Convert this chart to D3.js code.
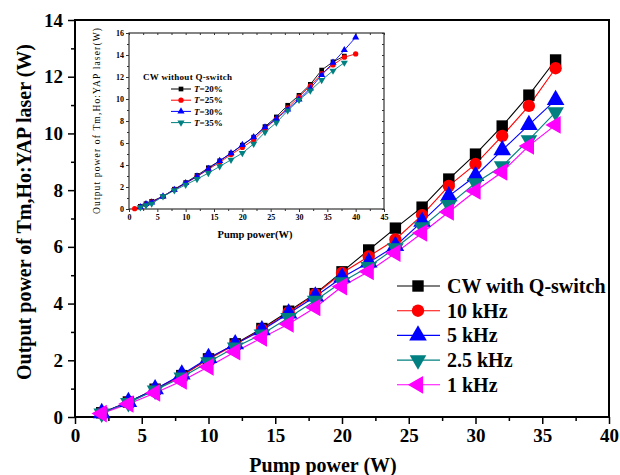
<!DOCTYPE html>
<html>
<head>
<meta charset="utf-8">
<script src="https://cdn.jsdelivr.net/npm/d3@7"></script>
<style>
  body { margin: 0; background: #fff; }
  svg { font-family: "Liberation Serif", "Times New Roman", serif; }
</style>
</head>
<body>
<svg id="chart" width="620" height="475"></svg>
<script>
// ---- main chart data (Q-switched) ----
var pump = [2, 4, 6, 8, 10, 12, 14, 16, 18, 20, 22, 24, 26, 28, 30, 32, 34, 36];
var cwQ   = [0.15, 0.53, 0.98, 1.46, 2.05, 2.58, 3.12, 3.73, 4.35, 5.12, 5.89, 6.66, 7.40, 8.39, 9.27, 10.26, 11.35, 12.59];
var f10k  = [0.14, 0.52, 0.97, 1.45, 2.04, 2.56, 3.09, 3.69, 4.33, 5.08, 5.66, 6.26, 7.12, 8.15, 8.92, 9.91, 10.97, 12.30];
var f5k   = [0.14, 0.53, 0.98, 1.50, 2.08, 2.57, 3.06, 3.65, 4.25, 4.92, 5.45, 6.03, 6.89, 7.79, 8.50, 9.41, 10.30, 11.18];
var f2_5k = [0.13, 0.50, 0.94, 1.40, 1.94, 2.46, 2.92, 3.50, 4.11, 4.76, 5.30, 5.96, 6.70, 7.48, 8.25, 8.85, 9.77, 10.75];
var f1k   = [0.12, 0.46, 0.85, 1.27, 1.77, 2.30, 2.79, 3.28, 3.86, 4.60, 5.13, 5.78, 6.49, 7.23, 7.97, 8.64, 9.56, 10.30];
var mainNames = ["CW with Q-switch", "10 kHz", "5 kHz", "2.5 kHz", "1 kHz"];

// ---- inset data (CW without Q-switch) ----
var insetPumpA = [2, 3, 4, 6, 8, 10, 12, 14, 16, 18, 20, 22, 24, 26, 28, 30, 32, 34, 36, 38];
var insetPumpB = [1, 2, 3, 4, 6, 8, 10, 12, 14, 16, 18, 20, 22, 24, 26, 28, 30, 32, 34, 36, 38, 40];
var insetPumpC = [2, 3, 4, 6, 8, 10, 12, 14, 16, 18, 20, 22, 24, 26, 28, 30, 32, 34, 36, 38, 40];
var t20 = [0.24, 0.48, 0.70, 1.15, 1.80, 2.40, 3.05, 3.75, 4.38, 5.07, 5.80, 6.53, 7.49, 8.37, 9.43, 10.33, 11.33, 12.63, 13.38, 13.90];
var t25 = [0.03, 0.20, 0.42, 0.65, 1.15, 1.75, 2.33, 2.95, 3.60, 4.25, 4.95, 5.60, 6.30, 7.30, 8.20, 9.20, 10.20, 11.20, 12.30, 13.10, 13.80, 14.10];
var t30 = [0.18, 0.45, 0.60, 1.15, 1.75, 2.36, 2.96, 3.66, 4.38, 5.08, 5.83, 6.53, 7.43, 8.19, 9.06, 9.97, 10.97, 12.18, 13.30, 14.45, 15.60];
var t35 = [0.15, 0.33, 0.48, 1.15, 1.69, 2.20, 2.72, 3.26, 3.87, 4.47, 5.08, 5.92, 6.98, 7.85, 8.94, 9.91, 10.76, 11.72, 12.57, 13.30];
var insetNames = ["20%", "25%", "30%", "35%"];

var colors = ["#000000", "#ff0000", "#0000ff", "#008080", "#ff00ff"];
var shapes = [
  {type: d3.symbolSquare, rot: 0},
  {type: d3.symbolCircle, rot: 0},
  {type: d3.symbolTriangle, rot: 0},
  {type: d3.symbolTriangle, rot: 180},
  {type: d3.symbolTriangle, rot: -90}
];

var svg = d3.select("#chart");

// ================= main plot =================
var margin = {top: 20, right: 11, bottom: 58, left: 75},
    width = 620 - margin.left - margin.right,
    height = 475 - margin.top - margin.bottom;

var g = svg.append("g")
    .attr("transform", "translate(" + margin.left + "," + margin.top + ")");

var x = d3.scaleLinear().domain([0, 40]).range([0, width]);
var y = d3.scaleLinear().domain([0, 14]).range([height, 0]);

// minor ticks
g.append("g")
    .attr("transform", "translate(0," + height + ")")
    .call(d3.axisBottom(x).tickValues(d3.range(2.5, 40, 5)).tickSize(4).tickFormat(""))
    .call(a => a.select(".domain").remove());
g.append("g")
    .call(d3.axisLeft(y).tickValues(d3.range(1, 14, 2)).tickSize(4).tickFormat(""))
    .call(a => a.select(".domain").remove());

var xAxis = g.append("g")
    .attr("transform", "translate(0," + height + ")")
    .call(d3.axisBottom(x).tickValues(d3.range(0, 41, 5)).tickSize(7).tickPadding(5));
var yAxis = g.append("g")
    .call(d3.axisLeft(y).tickValues(d3.range(0, 15, 2)).tickSize(7).tickPadding(5));

g.selectAll(".tick line").attr("stroke-width", 1.5);
[xAxis, yAxis].forEach(function(a) {
  a.select(".domain").remove();
  a.selectAll("text")
      .style("font-family", "Liberation Serif")
      .style("font-weight", "bold")
      .style("font-size", "19px")
      .attr("fill", "#000");
});

// frame
g.append("rect")
    .attr("width", width).attr("height", height)
    .attr("fill", "none").attr("stroke", "#000").attr("stroke-width", 2);

// axis labels
svg.append("text")
    .attr("x", 323).attr("y", 472)
    .style("text-anchor", "middle")
    .style("font-weight", "bold").style("font-size", "20px")
    .text("Pump power (W)");

svg.append("text")
    .attr("transform", "translate(31,212) rotate(-90)")
    .style("text-anchor", "middle")
    .style("font-weight", "bold").style("font-size", "20px")
    .text("Output power of Tm,Ho:YAP laser (W)");

var mainSeries = [cwQ, f10k, f5k, f2_5k, f1k].map(function(vals, i) {
  return {name: mainNames[i], color: colors[i], shape: shapes[i],
          pts: vals.map((v, j) => ({x: pump[j], y: v}))};
});

var mainSizes = [130, 120, 135, 120, 135];

var line = d3.line().x(d => x(d.x)).y(d => y(d.y));

mainSeries.forEach(function(s, i) {
  g.append("path")
      .datum(s.pts)
      .attr("d", line)
      .attr("fill", "none")
      .attr("stroke", s.color)
      .attr("stroke-width", 1.1);
});
mainSeries.forEach(function(s, i) {
  g.selectAll(".m" + i)
      .data(s.pts)
      .enter()
      .append("path")
      .attr("d", d3.symbol().type(s.shape.type).size(mainSizes[i]))
      .attr("transform", d => "translate(" + x(d.x) + "," + y(d.y) + ") rotate(" + s.shape.rot + ")")
      .attr("fill", s.color);
});

// main legend
var legend = svg.append("g").attr("transform", "translate(397,286)");
mainSeries.forEach(function(s, i) {
  var row = legend.append("g").attr("transform", "translate(0," + (i * 24.7) + ")");
  row.append("line")
      .attr("x1", 0).attr("x2", 43)
      .attr("stroke", s.color).attr("stroke-width", 1.1);
  row.append("path")
      .attr("d", d3.symbol().type(s.shape.type).size(mainSizes[i]))
      .attr("transform", "translate(21,0) rotate(" + s.shape.rot + ")")
      .attr("fill", s.color);
  row.append("text")
      .attr("x", 50).attr("dy", "0.35em")
      .style("font-weight", "bold").style("font-size", "20px")
      .text(s.name);
});

// ================= inset =================
var ins = {left: 129, top: 33, width: 255, height: 176};
var gi = svg.append("g")
    .attr("transform", "translate(" + ins.left + "," + ins.top + ")");

var xi = d3.scaleLinear().domain([0, 45]).range([0, ins.width]);
var yi = d3.scaleLinear().domain([0, 16]).range([ins.height, 0]);

gi.append("rect")
    .attr("width", ins.width).attr("height", ins.height)
    .attr("fill", "#fff").attr("stroke", "#333").attr("stroke-width", 1.2);

function insetTicks(sel) {
  sel.select(".domain").remove();
  sel.selectAll("line").attr("stroke", "#333");
  sel.selectAll("text")
      .style("font-family", "Liberation Serif")
      .style("font-weight", "bold")
      .style("font-size", "8px")
      .attr("fill", "#000");
}
gi.append("g").attr("transform", "translate(0," + ins.height + ")")
    .call(d3.axisBottom(xi).tickValues(d3.range(0, 46, 5)).tickSize(3).tickPadding(2)).call(insetTicks);
gi.append("g").attr("transform", "translate(0," + ins.height + ")")
    .call(d3.axisBottom(xi).tickValues(d3.range(2.5, 45, 5)).tickSize(2).tickFormat("")).call(insetTicks);
gi.append("g")
    .call(d3.axisLeft(yi).tickValues(d3.range(0, 17, 2)).tickSize(3).tickPadding(2)).call(insetTicks);
gi.append("g")
    .call(d3.axisLeft(yi).tickValues(d3.range(1, 16, 2)).tickSize(2).tickFormat("")).call(insetTicks);
// mirrored ticks on top and right (inward)
gi.append("g")
    .call(d3.axisBottom(xi).tickValues(d3.range(0, 46, 2.5)).tickSize(2).tickFormat("")).call(insetTicks);
gi.append("g").attr("transform", "translate(" + ins.width + ",0)")
    .call(d3.axisLeft(yi).tickValues(d3.range(0, 17, 1)).tickSize(2).tickFormat("")).call(insetTicks);

svg.append("text")
    .attr("x", 255).attr("y", 238)
    .style("text-anchor", "middle")
    .style("font-weight", "bold").style("font-size", "10.5px")
    .text("Pump power(W)");
svg.append("text")
    .attr("transform", "translate(100,121) rotate(-90)")
    .style("text-anchor", "middle")
    .style("font-size", "9.5px")
    .attr("textLength", 186)
    .text("Output power of Tm,Ho:YAP laser(W)");

var insetSeries = [
  {pts: t20.map((v, j) => ({x: insetPumpA[j], y: v}))},
  {pts: t25.map((v, j) => ({x: insetPumpB[j], y: v}))},
  {pts: t30.map((v, j) => ({x: insetPumpC[j], y: v}))},
  {pts: t35.map((v, j) => ({x: insetPumpA[j], y: v}))}
];

var linei = d3.line().x(d => xi(d.x)).y(d => yi(d.y));
insetSeries.forEach(function(s, i) {
  gi.append("path")
      .datum(s.pts)
      .attr("d", linei)
      .attr("fill", "none")
      .attr("stroke", colors[i])
      .attr("stroke-width", 0.9);
});
insetSeries.forEach(function(s, i) {
  gi.selectAll(".i" + i)
      .data(s.pts)
      .enter()
      .append("path")
      .attr("d", d3.symbol().type(shapes[i].type).size(22))
      .attr("transform", d => "translate(" + xi(d.x) + "," + yi(d.y) + ") rotate(" + shapes[i].rot + ")")
      .attr("fill", colors[i]);
});

// inset legend
svg.append("text")
    .attr("x", 143).attr("y", 80)
    .style("font-weight", "bold").style("font-size", "9px")
    .attr("textLength", 89)
    .text("CW without  Q-switch");
var li = svg.append("g").attr("transform", "translate(171,89)");
insetNames.forEach(function(n, i) {
  var row = li.append("g").attr("transform", "translate(0," + (i * 11.2) + ")");
  row.append("line").attr("x1", 0).attr("x2", 20)
      .attr("stroke", colors[i]).attr("stroke-width", 1);
  row.append("path")
      .attr("d", d3.symbol().type(shapes[i].type).size(22))
      .attr("transform", "translate(10,0) rotate(" + shapes[i].rot + ")")
      .attr("fill", colors[i]);
  var t = row.append("text").attr("x", 23).attr("dy", "0.35em")
      .style("font-weight", "bold").style("font-size", "9px");
  t.append("tspan").style("font-style", "italic").text("T");
  t.append("tspan").text("=" + n);
});
</script>
</body>
</html>
